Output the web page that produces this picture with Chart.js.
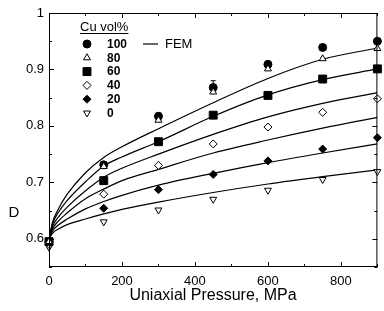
<!DOCTYPE html>
<html>
<head>
<meta charset="utf-8">
<script src="https://cdn.jsdelivr.net/npm/chart.js@4/dist/chart.umd.min.js"></script>
<style>
  html, body { margin: 0; padding: 0; background: #fff; }
  #wrap { width: 384px; height: 311px; }
</style>
</head>
<body>
<div id="wrap"><canvas id="chart"></canvas></div>
<script>
// Measured points (uniaxial pressure, MPa)
const pressure = [0, 150, 300, 450, 600, 750, 900];
const cu100 = [0.595, 0.731, 0.817, 0.868, 0.909, 0.939, 0.950];
const cu80  = [0.595, 0.728, 0.810, 0.860, 0.901, 0.919, 0.937];
const cu60  = [0.595, 0.703, 0.772, 0.819, 0.854, 0.883, 0.901];
const cu40  = [0.590, 0.679, 0.730, 0.768, 0.798, 0.824, 0.848];
const cu20  = [0.593, 0.654, 0.687, 0.714, 0.738, 0.759, 0.779];
const cu0   = [0.585, 0.630, 0.651, 0.670, 0.686, 0.705, 0.719];
const cu100Err = [0, 0, 0.006, 0.012, 0.005, 0, 0];

// FEM curves
const femPressure = [0, 10, 25, 50, 100, 150, 200, 300, 450, 600, 750, 900];
const fem100 = [0.600, 0.630, 0.652, 0.679, 0.717, 0.744, 0.763, 0.795, 0.841, 0.884, 0.918, 0.938];
const fem80  = [0.600, 0.627, 0.646, 0.668, 0.701, 0.729, 0.745, 0.772, 0.817, 0.855, 0.882, 0.901];
const fem60  = [0.600, 0.622, 0.638, 0.656, 0.685, 0.709, 0.725, 0.750, 0.785, 0.816, 0.840, 0.859];
const fem40  = [0.600, 0.618, 0.631, 0.646, 0.671, 0.688, 0.703, 0.723, 0.752, 0.775, 0.796, 0.815];
const fem20  = [0.600, 0.614, 0.624, 0.635, 0.653, 0.666, 0.677, 0.695, 0.716, 0.735, 0.752, 0.768];
const fem0   = [0.600, 0.610, 0.617, 0.625, 0.635, 0.644, 0.652, 0.665, 0.682, 0.697, 0.710, 0.722];

const legendLabels = ['100', '80', '60', '40', '20', '0'];
const xTicks = [0, 200, 400, 600, 800];
const xMinor = [100, 300, 500, 700, 900];
const yTicks = [0.6, 0.7, 0.8, 0.9, 1];
const yMinor = [0.55, 0.65, 0.75, 0.85, 0.95];

const FONT = '"Liberation Sans", Arial, Helvetica, sans-serif';

const pts = (ys, xs) => ys.map((y, i) => ({ x: xs[i], y: y }));

// marker look for each Cu series
const markers = [
    { pointStyle: 'circle',   radius: 4,   fill: '#000', rotation: 0 },
    { pointStyle: 'triangle', radius: 4,   fill: '#fff', rotation: 0 },
    { pointStyle: 'rect',     radius: 5.6, fill: '#000', rotation: 0 },
    { pointStyle: 'rectRot',  radius: 4,   fill: '#fff', rotation: 0 },
    { pointStyle: 'rectRot',  radius: 4,   fill: '#000', rotation: 0 },
    { pointStyle: 'triangle', radius: 4,   fill: '#fff', rotation: 180 }
];

const cuSeries = [cu100, cu80, cu60, cu40, cu20, cu0];
const femSeries = [fem100, fem80, fem60, fem40, fem20, fem0];

const datasets = [];
cuSeries.forEach((s, i) => {
    const m = markers[i];
    datasets.push({
        type: 'scatter',
        label: 'Cu ' + legendLabels[i],
        data: pts(s, pressure),
        showLine: false,
        pointStyle: m.pointStyle,
        rotation: m.rotation,
        pointRadius: m.radius,
        pointBackgroundColor: m.fill,
        pointBorderColor: '#000',
        pointBorderWidth: 1,
        clip: false,
        order: i === 1 ? 0 : 1
    });
});
femSeries.forEach((s, i) => {
    datasets.push({
        type: 'line',
        label: 'FEM ' + legendLabels[i],
        data: pts(s, femPressure),
        borderColor: '#000',
        borderWidth: 1.2,
        pointRadius: 0,
        cubicInterpolationMode: 'monotone',
        fill: false,
        order: 2
    });
});

// error bars on the 100% series
const errorBars = {
    id: 'errorBars',
    beforeDatasetsDraw(chart) {
        const { ctx, scales } = chart;
        ctx.save();
        ctx.strokeStyle = '#000';
        ctx.lineWidth = 1;
        cu100Err.forEach((e, i) => {
            if (!e) return;
            const x = scales.x.getPixelForValue(pressure[i]);
            const yTop = scales.y.getPixelForValue(cu100[i] + e);
            const yBot = scales.y.getPixelForValue(cu100[i] - e);
            ctx.beginPath();
            ctx.moveTo(x, yTop); ctx.lineTo(x, yBot);
            ctx.moveTo(x - 2.5, yTop); ctx.lineTo(x + 2.5, yTop);
            ctx.stroke();
        });
        ctx.restore();
    }
};

// frame, inward ticks, axis titles, legend
const frame = {
    id: 'frame',
    afterDraw(chart) {
        const { ctx, chartArea: a, scales } = chart;
        ctx.save();
        ctx.strokeStyle = '#000';
        ctx.lineWidth = 1;
        ctx.strokeRect(a.left + 0.5, a.top + 0.5, a.right - a.left - 1, a.bottom - a.top - 1);

        ctx.beginPath();
        const xt = (v, len) => {
            const x = Math.round(scales.x.getPixelForValue(v)) + 0.5;
            ctx.moveTo(x, a.bottom); ctx.lineTo(x, a.bottom - len);
            ctx.moveTo(x, a.top); ctx.lineTo(x, a.top + len);
        };
        const yt = (v, len) => {
            const y = Math.round(scales.y.getPixelForValue(v)) + 0.5;
            ctx.moveTo(a.left, y); ctx.lineTo(a.left + len, y);
            ctx.moveTo(a.right, y); ctx.lineTo(a.right - len, y);
        };
        xTicks.forEach(v => xt(v, 5));
        xMinor.forEach(v => xt(v, 3));
        yTicks.forEach(v => yt(v, 5));
        yMinor.forEach(v => yt(v, 3));
        ctx.stroke();

        ctx.fillStyle = '#000';
        ctx.textBaseline = 'middle';
        ctx.textAlign = 'center';
        ctx.font = '16px ' + FONT;
        ctx.fillText('Uniaxial Pressure, MPa', 213, 296);
        ctx.font = '15px ' + FONT;
        ctx.fillText('D', 14, 213);

        // legend
        ctx.textAlign = 'left';
        ctx.font = '13px ' + FONT;
        ctx.fillText('Cu vol%', 80, 27);
        const w = ctx.measureText('Cu vol%').width;
        ctx.beginPath();
        ctx.moveTo(80, 33.5); ctx.lineTo(80 + w, 33.5);
        ctx.stroke();

        const draw = Chart.helpers && Chart.helpers.drawPoint;
        markers.forEach((m, i) => {
            const y = 44 + i * 13.8;
            ctx.fillStyle = m.fill;
            ctx.strokeStyle = '#000';
            ctx.lineWidth = 1;
            if (draw) {
                draw(ctx, { pointStyle: m.pointStyle, rotation: m.rotation, radius: m.radius, borderWidth: 1 }, 87, y);
            }
            ctx.fillStyle = '#000';
            ctx.font = 'bold 12px ' + FONT;
            ctx.fillText(legendLabels[i], 107, y + 0.5);
        });

        ctx.beginPath();
        ctx.lineWidth = 1.2;
        ctx.moveTo(143, 44); ctx.lineTo(158, 44);
        ctx.stroke();
        ctx.font = '13px ' + FONT;
        ctx.fillText('FEM', 165, 44.5);
        ctx.restore();
    }
};

new Chart(document.getElementById('chart'), {
    data: { datasets: datasets },
    options: {
        responsive: true,
        maintainAspectRatio: false,
        animation: false,
        layout: { padding: { top: 13, right: 4, left: 0, bottom: 0 } },
        plugins: {
            legend: { display: false },
            tooltip: { enabled: false }
        },
        scales: {
            x: {
                type: 'linear',
                min: 0,
                max: 900,
                afterFit: s => { s.height = 44; },
                afterBuildTicks: s => { s.ticks = xTicks.map(v => ({ value: v })); },
                grid: { display: false, drawTicks: false },
                border: { display: false },
                ticks: {
                    color: '#000',
                    padding: 7,
                    maxRotation: 0,
                    font: { family: FONT, size: 13 }
                }
            },
            y: {
                type: 'linear',
                min: 0.55,
                max: 1,
                afterFit: s => { s.width = 49; },
                afterBuildTicks: s => { s.ticks = yTicks.map(v => ({ value: v })); },
                grid: { display: false, drawTicks: false },
                border: { display: false },
                ticks: {
                    color: '#000',
                    padding: 5,
                    font: { family: FONT, size: 13 },
                    callback: v => (v === 1 ? '1' : v.toFixed(1))
                }
            }
        }
    },
    plugins: [errorBars, frame]
});
</script>
</body>
</html>
